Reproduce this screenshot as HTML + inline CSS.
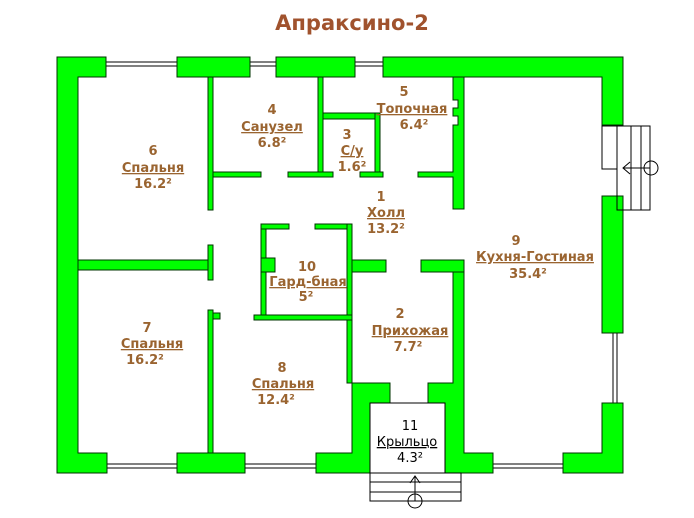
<!DOCTYPE html>
<html><head><meta charset="utf-8"><style>
body{margin:0;background:#fff}
svg{display:block}
text{font-family:"DejaVu Sans","Liberation Sans",sans-serif;font-size:13px;font-weight:bold;fill:#9a6430;text-anchor:middle}
.u{text-decoration:underline}
.k{fill:#000;font-weight:normal}
</style></head><body>
<svg width="694" height="518" viewBox="0 0 694 518" xmlns="http://www.w3.org/2000/svg">
<text x="352" y="30" style="font-size:21px;fill:#a0522d;font-family:'DejaVu Sans',sans-serif">Апраксино-2</text>
<g fill="#fff" stroke="#000" stroke-width="1">
<rect x="106" y="62" width="71" height="4"/><rect x="250" y="62" width="26" height="4"/><rect x="355" y="62" width="28" height="4"/>
<rect x="107" y="464" width="70" height="4"/><rect x="245" y="464" width="71" height="4"/><rect x="493" y="464" width="70" height="4"/>
<rect x="613" y="333" width="4" height="70"/>
</g>
<g fill="#00ff00" stroke="#003300" stroke-width="1">
<polygon points="57,57 106,57 106,77 78,77 78,453 107,453 107,473 57,473"/>
<rect x="177" y="57" width="73" height="20"/>
<rect x="276" y="57" width="79" height="20"/>
<polygon points="383,57 623,57 623,125 602,125 602,77 383,77"/>
<rect x="602" y="196" width="21" height="137"/>
<polygon points="602,403 623,403 623,473 563,473 563,453 602,453"/>
<rect x="177" y="453" width="68" height="20"/>
<polygon points="316,453 352,453 352,383 390,383 390,403 370,403 370,473 316,473"/>
<polygon points="453,260 464,260 464,453 493,453 493,473 445,473 445,403 428,403 428,383 453,383"/>
<rect x="208" y="77" width="5" height="133"/>
<rect x="213" y="172" width="48" height="5"/>
<rect x="318" y="77" width="5" height="100"/>
<rect x="288" y="172" width="45" height="5"/>
<rect x="323" y="113" width="57" height="6"/>
<rect x="375" y="113" width="5" height="64"/>
<rect x="360" y="172" width="23" height="5"/>
<polygon points="453,77 464,77 464,209 453,209 453,177 418,177 418,172 453,172 453,125 458,125 458,116 453,116 453,108 458,108 458,100 453,100"/>
<rect x="208" y="245" width="5" height="35"/>
<rect x="78" y="260" width="130" height="10"/>
<rect x="208" y="310" width="5" height="143"/>
<rect x="213" y="313" width="7" height="6"/>
<rect x="261" y="224" width="5" height="94"/>
<rect x="261" y="224" width="28" height="5"/>
<rect x="315" y="224" width="37" height="5"/>
<rect x="347" y="224" width="5" height="159"/>
<rect x="254" y="315" width="98" height="5"/>
<rect x="261" y="258" width="14" height="14"/>
<rect x="352" y="260" width="34" height="12"/>
<rect x="421" y="260" width="43" height="12"/>
</g>
<g fill="none" stroke="#000" stroke-width="1">
<rect x="370" y="403" width="75" height="70" fill="#fff"/>
<rect x="370" y="473" width="91" height="28"/>
<line x1="370" y1="482" x2="461" y2="482"/><line x1="370" y1="492" x2="461" y2="492"/>
<line x1="415" y1="476" x2="415" y2="501"/><polyline points="410,483 415,476 420,483"/>
<circle cx="415" cy="501" r="7"/>
<rect x="602" y="126" width="15" height="43"/>
<rect x="617" y="126" width="33" height="84"/>
<line x1="631" y1="126" x2="631" y2="210"/><line x1="641" y1="126" x2="641" y2="210"/>
<line x1="623" y1="168" x2="650" y2="168"/><polyline points="630,162 623,168 630,174"/>
<circle cx="651" cy="168" r="7"/>
</g>
<text x="272" y="114">4</text><text x="272" y="131" class="u">Санузел</text><text x="272" y="147">6.8²</text>
<text x="153" y="155">6</text><text x="153" y="172" class="u">Спальня</text><text x="153" y="188">16.2²</text>
<text x="347" y="139">3</text><text x="352" y="155" class="u">С/у</text><text x="352" y="171">1.6²</text>
<text x="404" y="96">5</text><text x="412" y="113" class="u">Топочная</text><text x="414" y="129">6.4²</text>
<text x="381" y="201">1</text><text x="386" y="217" class="u">Холл</text><text x="386" y="233">13.2²</text>
<text x="516" y="245">9</text><text x="535" y="261" class="u">Кухня-Гостиная</text><text x="528" y="278">35.4²</text>
<text x="307" y="271">10</text><text x="308" y="286" class="u">Гард-бная</text><text x="306" y="301">5²</text>
<text x="147" y="332">7</text><text x="152" y="348" class="u">Спальня</text><text x="145" y="364">16.2²</text>
<text x="282" y="372">8</text><text x="283" y="388" class="u">Спальня</text><text x="276" y="404">12.4²</text>
<text x="400" y="318">2</text><text x="410" y="335" class="u">Прихожая</text><text x="408" y="351">7.7²</text>
<text x="410" y="430" class="k">11</text><text x="407" y="446" class="k u">Крыльцо</text><text x="410" y="462" class="k">4.3²</text>
</svg>
</body></html>
